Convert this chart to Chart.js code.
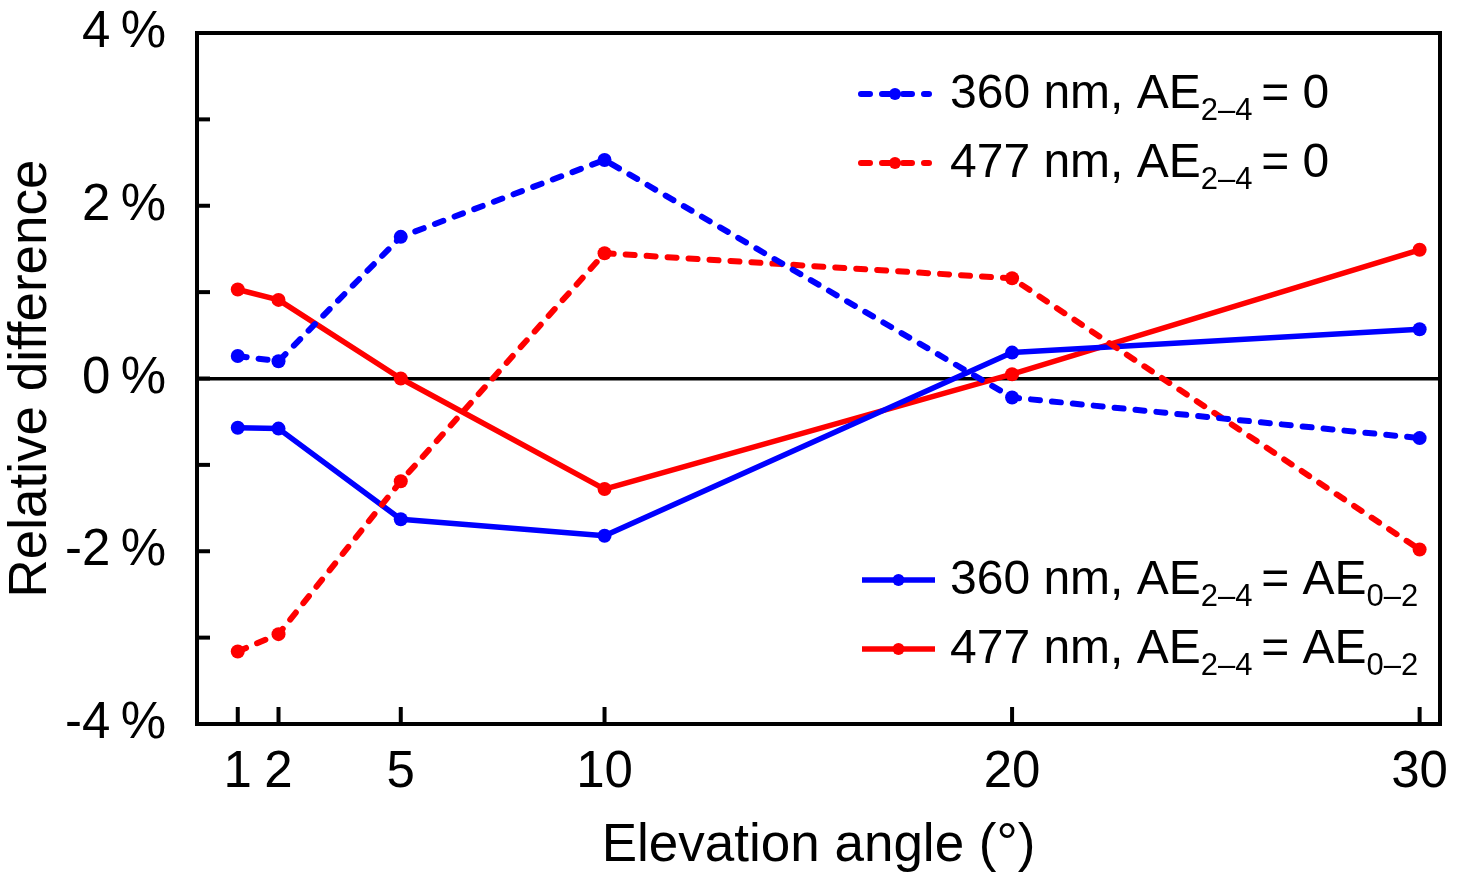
<!DOCTYPE html>
<html>
<head>
<meta charset="utf-8">
<script src="https://cdn.jsdelivr.net/npm/chart.js@4"></script>
<style>
  html, body { margin: 0; padding: 0; background: #fff; }
  #wrap { width: 1461px; height: 885px; position: relative; }
</style>
</head>
<body>
<div id="wrap"><canvas id="c"></canvas></div>
<script>
// ---- data ----
const elevationAngles = [1, 2, 5, 10, 20, 30];
const xTickValues = [1, 2, 5, 10, 20, 30];
const blueDashed = [0.26, 0.20, 1.64, 2.53, -0.22, -0.69];   // 360 nm, AE2-4 = 0
const redDashed  = [-3.16, -2.96, -1.19, 1.45, 1.16, -1.98]; // 477 nm, AE2-4 = 0
const blueSolid  = [-0.57, -0.58, -1.63, -1.82, 0.30, 0.57]; // 360 nm, AE2-4 = AE0-2
const redSolid   = [1.03, 0.91, 0.00, -1.28, 0.05, 1.49];    // 477 nm, AE2-4 = AE0-2
const yLabelValues = [-4, -2, 0, 2, 4];
const legendLabels = [
  ['360 nm, AE', '2–4 ', '= 0'],
  ['477 nm, AE', '2–4 ', '= 0'],
  ['360 nm, AE', '2–4 ', '= AE', '0–2'],
  ['477 nm, AE', '2–4 ', '= AE', '0–2']
];
const xTitle = 'Elevation angle (°)';
const yTitle = 'Relative difference';

const BLUE = '#0000ff', RED = '#ff0000';
const FONT = '"Liberation Sans", Arial, sans-serif';
const DASH = [9, 12];

function pts(vals) { return elevationAngles.map((x, i) => ({x: x, y: vals[i]})); }

function ds(label, vals, color, dashed) {
  return {
    label: label, data: pts(vals),
    borderColor: color, backgroundColor: color,
    pointBackgroundColor: color, pointBorderWidth: 0,
    pointRadius: 7, pointHoverRadius: 7,
    borderWidth: dashed ? 6 : 5.5,
    borderDash: dashed ? DASH : [],
    borderCapStyle: dashed ? 'round' : 'butt',
    borderJoinStyle: 'round',
    tension: 0, fill: false, _dashed: dashed
  };
}

const framePlugin = {
  id: 'frame',
  afterDatasetsDraw(chart) {
    const {ctx, chartArea: a, scales} = chart;
    ctx.save();
    ctx.strokeStyle = '#000';
    ctx.lineWidth = 4;
    ctx.lineCap = 'butt';
    scales.y.ticks.forEach(t => {
      if (t.value <= -4 || t.value >= 4) return;
      const py = scales.y.getPixelForValue(t.value);
      ctx.beginPath(); ctx.moveTo(a.left, py); ctx.lineTo(a.left + 13, py); ctx.stroke();
    });
    scales.x.ticks.forEach(t => {
      const px = scales.x.getPixelForValue(t.value);
      ctx.beginPath(); ctx.moveTo(px, a.bottom); ctx.lineTo(px, a.bottom - 17); ctx.stroke();
    });
    ctx.strokeRect(a.left, a.top, a.right - a.left, a.bottom - a.top);
    ctx.restore();
  },
  afterDraw(chart) {
    const ctx = chart.ctx;
    const dsets = chart.data.datasets;
    const rows = [
      {x0: 858, x1: 932, tx: 950, y: 94},
      {x0: 858, x1: 932, tx: 950, y: 163},
      {x0: 862, x1: 935, tx: 950, y: 580},
      {x0: 862, x1: 935, tx: 950, y: 649}
    ];
    ctx.save();
    rows.forEach((r, i) => {
      const d = dsets[i];
      ctx.strokeStyle = d.borderColor;
      ctx.fillStyle = d.borderColor;
      ctx.lineWidth = d.borderWidth;
      if (d._dashed) { ctx.setLineDash(DASH); ctx.lineCap = 'round'; }
      else { ctx.setLineDash([]); ctx.lineCap = 'butt'; }
      const inset = d._dashed ? 3 : 0;
      ctx.beginPath(); ctx.moveTo(r.x0 + inset, r.y); ctx.lineTo(r.x1 - inset, r.y); ctx.stroke();
      ctx.setLineDash([]);
      ctx.beginPath(); ctx.arc((r.x0 + r.x1) / 2, r.y, 6, 0, Math.PI * 2); ctx.fill();
      ctx.fillStyle = '#000';
      ctx.textBaseline = 'alphabetic';
      ctx.textAlign = 'left';
      let x = r.tx;
      legendLabels[i].forEach((seg, k) => {
        const sub = k % 2 === 1;
        ctx.font = (sub ? '31px ' : '48px ') + FONT;
        ctx.fillText(seg, x, r.y + (sub ? 25.5 : 14));
        x += ctx.measureText(seg).width;
      });
    });
    ctx.restore();
  }
};

new Chart(document.getElementById('c'), {
  type: 'line',
  data: {
    datasets: [
      ds('360 nm, AE2-4 = 0', blueDashed, BLUE, true),
      ds('477 nm, AE2-4 = 0', redDashed, RED, true),
      ds('360 nm, AE2-4 = AE0-2', blueSolid, BLUE, false),
      ds('477 nm, AE2-4 = AE0-2', redSolid, RED, false)
    ]
  },
  options: {
    responsive: true, maintainAspectRatio: false, animation: false,
    devicePixelRatio: 1,
    layout: { padding: { top: 33, right: 21, left: 0, bottom: 0 } },
    plugins: { legend: { display: false }, tooltip: { enabled: false } },
    scales: {
      x: {
        type: 'linear', min: 0, max: 30.5,
        afterBuildTicks: s => { s.ticks = xTickValues.map(v => ({value: v})); },
        afterFit: s => { s.height = 161; s.paddingLeft = 0; s.paddingRight = 0; s.paddingTop = 0; s.paddingBottom = 0; },
        grid: { display: false, drawTicks: false },
        border: { display: false },
        ticks: { color: '#000', padding: 23, autoSkip: false, maxRotation: 0,
                 font: { family: FONT, size: 51, lineHeight: 1 },
                 callback: v => String(v) },
        title: { display: true, text: xTitle, color: '#000',
                 font: { family: FONT, size: 53, lineHeight: 1 },
                 padding: { top: 0, bottom: 12 } }
      },
      y: {
        type: 'linear', min: -4, max: 4,
        afterFit: s => { s.width = 197; s.paddingTop = 0; s.paddingBottom = 0; s.paddingLeft = 0; s.paddingRight = 0; },
        grid: { drawTicks: false, drawOnChartArea: true,
                color: c => (c.tick && c.tick.value === 0) ? '#000' : 'rgba(0,0,0,0)',
                lineWidth: c => (c.tick && c.tick.value === 0) ? 3.5 : 0 },
        border: { display: false },
        ticks: { color: '#000', padding: 31, stepSize: 1, autoSkip: false,
                 font: { family: FONT, size: 51, lineHeight: 1 },
                 callback: v => yLabelValues.includes(v) ? (v + '\u2009%') : '' },
        title: { display: true, text: yTitle, color: '#000',
                 font: { family: FONT, size: 53, lineHeight: 1 },
                 padding: { top: 5, bottom: 0 } }
      }
    }
  },
  plugins: [framePlugin]
});
</script>
</body>
</html>
